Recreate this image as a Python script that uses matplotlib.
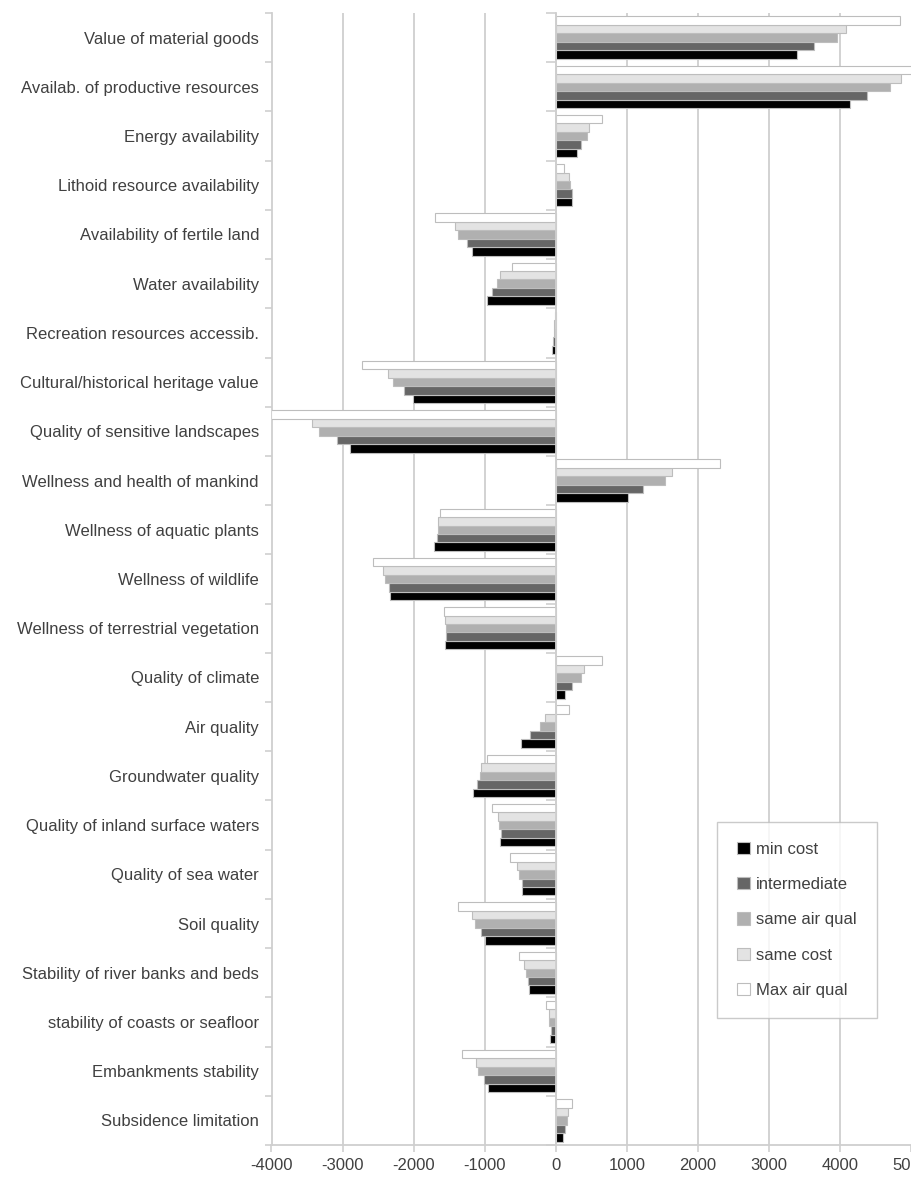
import numpy as np
import matplotlib
matplotlib.use("Agg")
import matplotlib.pyplot as plt

plt.rcParams['font.family'] = ['Liberation Sans', 'DejaVu Sans']
plt.rcParams['axes.unicode_minus'] = False

categories = [
    "Value of material goods",
    "Availab. of productive resources",
    "Energy availability",
    "Lithoid resource availability",
    "Availability of fertile land",
    "Water availability",
    "Recreation resources accessib.",
    "Cultural/historical heritage value",
    "Quality of sensitive landscapes",
    "Wellness and health of mankind",
    "Wellness of aquatic plants",
    "Wellness of wildlife",
    "Wellness of terrestrial vegetation",
    "Quality of climate",
    "Air quality",
    "Groundwater quality",
    "Quality of inland surface waters",
    "Quality of sea water",
    "Soil quality",
    "Stability of river banks and beds",
    "stability of coasts or seafloor",
    "Embankments stability",
    "Subsidence limitation",
]

min_cost = [3400, 4145, 296, 225, -1178, -972, -56, -2009, -2897, 1024,
            -1718, -2338, -1563, 136, -493, -1169, -779, -474, -991, -380,
            -75, -948, 103]
intermediate = [3638, 4380, 352, 225, -1254, -897, -35, -2136, -3080, 1235,
                -1676, -2352, -1549, 235, -366, -1113, -775, -474, -1056, -394,
                -66, -1014, 136]
same_air_qual = [3958, 4704, 437, 197, -1376, -826, -25, -2291, -3333, 1531,
                 -1657, -2408, -1549, 352, -221, -1070, -798, -516, -1141, -423,
                 -99, -1094, 164]
same_cost = [4089, 4854, 474, 183, -1422, -789, -20, -2357, -3432, 1643,
             -1653, -2437, -1554, 394, -146, -1056, -812, -540, -1174, -441,
             -94, -1127, 169]
max_air_qual = [4849, 5150, 656, 121, -1694, -615, -10, -2723, -4000, 2314,
                -1629, -2573, -1573, 652, 188, -967, -897, -643, -1376, -516,
                -131, -1315, 235]

series = [
    ("min cost", min_cost, "#000000"),
    ("intermediate", intermediate, "#666666"),
    ("same air qual", same_air_qual, "#b0b0b0"),
    ("same cost", same_cost, "#e3e3e3"),
    ("Max air qual", max_air_qual, "#ffffff"),
]

grid_col = "#cfcfcf"
text_col = "#404040"
fs = 12

fig = plt.figure(figsize=(9.11, 11.82), dpi=100)
ax_l = 271.5 / 911
ax = fig.add_axes([ax_l, 1 - 1145 / 1182, 1 - ax_l, (1145 - 13) / 1182])

n = len(categories)
y = np.arange(n)
bh = 0.172
# min cost lowest in each group, Max air qual on top
for i, (name, vals, col) in enumerate(series):
    offs = (2 - i) * bh
    ax.barh(y + offs, vals, height=bh, color=col, edgecolor="#bdbdbd",
            linewidth=0.8, label=name, zorder=3)

ax.set_xlim(-4000, 5000)
ax.set_ylim(n - 0.5, -0.5)
ax.set_xticks(np.arange(-4000, 5001, 1000))
ax.xaxis.grid(True, color=grid_col, linewidth=1.3, zorder=0)
ax.get_xgridlines()[-1].set_visible(False)
ax.tick_params(axis='x', colors=grid_col, labelcolor=text_col, labelsize=fs,
               length=5, width=1.2, pad=4)
for lab in ax.get_xticklabels():
    lab.set_clip_on(False)

for s in ["top", "right"]:
    ax.spines[s].set_visible(False)
ax.spines["bottom"].set_color(grid_col)
ax.spines["bottom"].set_linewidth(1.3)
ax.spines["left"].set_position(("data", 0))
ax.spines["left"].set_color(grid_col)
ax.spines["left"].set_linewidth(1.3)
ax.spines["left"].set_zorder(4)

# category boundary ticks on the zero axis
ax.set_yticks(y)
ax.set_yticklabels([])
ax.tick_params(axis='y', which='major', length=0)
ax.set_yticks(np.arange(n + 1) - 0.5, minor=True)
ax.tick_params(axis='y', which='minor', length=7, width=1.2, color=grid_col,
               direction='out')

# labels on the left edge
sec = ax.secondary_yaxis('left')
sec.set_yticks(y)
sec.set_yticklabels(categories)
sec.set_yticks(np.arange(n + 1) - 0.5, minor=True)
sec.tick_params(axis='y', which='major', length=0, pad=9, labelsize=fs,
                labelcolor=text_col)
sec.tick_params(axis='y', which='minor', length=5, width=1.2, color=grid_col)
sec.spines['left'].set_color(grid_col)
sec.spines['left'].set_linewidth(1.3)

aw = 911 - 271.5
leg = ax.legend(loc="lower left",
                bbox_to_anchor=((717 - 271.5) / aw, (1145 - 1018) / 1132),
                frameon=True, fancybox=False, edgecolor="#bdbdbd",
                fontsize=fs, labelspacing=1.22, handlelength=0.75,
                handleheight=0.75, handletextpad=0.4, borderpad=1.2,
                borderaxespad=0)
leg.get_frame().set_linewidth(1.0)
for t in leg.get_texts():
    t.set_color(text_col)
leg.set_zorder(5)

fig.savefig("out.png", dpi=100)
